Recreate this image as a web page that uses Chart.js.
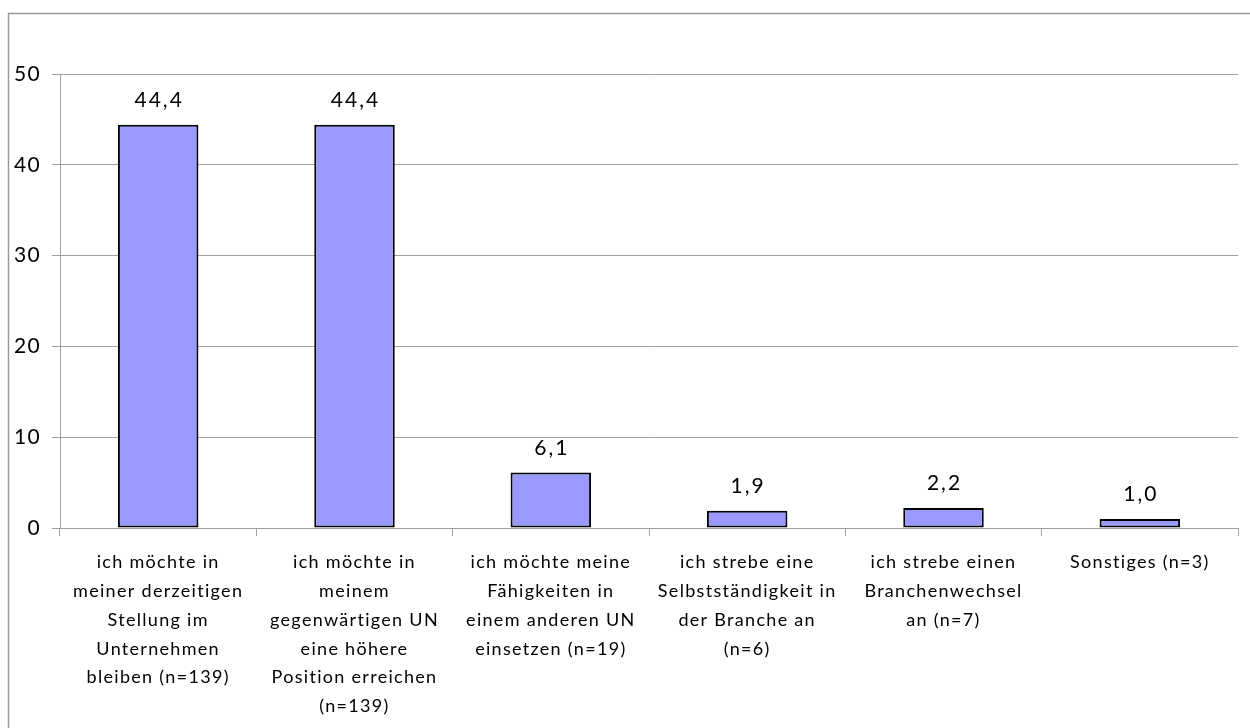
<!DOCTYPE html>
<html lang="de">
<head>
<meta charset="utf-8">
<title>Berufliche Ziele</title>
<script src="https://cdn.jsdelivr.net/npm/chart.js@4"></script>
<style>
  html, body { margin: 0; padding: 0; background: #ffffff; }
  canvas { display: block; }
</style>
</head>
<body>
<canvas id="chart" width="1250" height="728"></canvas>
<script>
// Antwortkategorien (mehrzeilig wie in der Achsenbeschriftung)
const categories = [
  ["ich möchte in", "meiner derzeitigen", "Stellung im", "Unternehmen", "bleiben (n=139)"],
  ["ich möchte in", "meinem", "gegenwärtigen UN", "eine höhere", "Position erreichen", "(n=139)"],
  ["ich möchte meine", "Fähigkeiten in", "einem anderen UN", "einsetzen (n=19)"],
  ["ich strebe eine", "Selbstständigkeit in", "der Branche an", "(n=6)"],
  ["ich strebe einen", "Branchenwechsel", "an (n=7)"],
  ["Sonstiges (n=3)"]
];

// Anteile in Prozent
const percentages = [44.4, 44.4, 6.1, 1.9, 2.2, 1.0];

// Y-Achse
const yTicks = [0, 10, 20, 30, 40, 50];

const FONT = "Lato, 'Open Sans', sans-serif";
const GRID = "#a0a0a0";

// etwas gesperrte Schrift für alle Beschriftungen
const spacing = {
  id: "spacing",
  beforeLayout(chart) { chart.ctx.letterSpacing = "1.3px"; },
  beforeDraw(chart) { chart.ctx.letterSpacing = "1.3px"; }
};

// Rahmen um die gesamte Grafik (oben und links sichtbar)
const frame = {
  id: "frame",
  beforeDraw(chart) {
    const ctx = chart.ctx;
    ctx.save();
    ctx.strokeStyle = "#9a9a9a";
    ctx.lineWidth = 1.5;
    ctx.strokeRect(8.5, 13.5, chart.width + 20, chart.height + 20);
    ctx.restore();
  }
};

// Wertbeschriftungen über den Säulen, deutsches Dezimalkomma
const valueLabels = {
  id: "valueLabels",
  afterDatasetsDraw(chart) {
    const ctx = chart.ctx;
    const meta = chart.getDatasetMeta(0);
    ctx.save();
    ctx.font = "21px " + FONT;
    ctx.letterSpacing = "2px";
    ctx.fillStyle = "#000000";
    ctx.textAlign = "center";
    ctx.textBaseline = "alphabetic";
    meta.data.forEach((bar, i) => {
      const txt = percentages[i].toFixed(1).replace(".", ",");
      ctx.fillText(txt, bar.x + 1, bar.y - 18);
    });
    ctx.restore();
  }
};

new Chart(document.getElementById("chart"), {
  type: "bar",
  data: {
    labels: categories,
    datasets: [{
      data: percentages,
      backgroundColor: "#9999ff",
      borderColor: "#000000",
      borderWidth: 2,
      borderSkipped: false,
      barPercentage: 0.41,
      categoryPercentage: 1.0
    }]
  },
  options: {
    responsive: false,
    animation: false,
    devicePixelRatio: 1,
    layout: { padding: { left: 0, right: 12, top: 74, bottom: 0 } },
    plugins: {
      legend: { display: false },
      tooltip: { enabled: false },
      title: { display: false }
    },
    scales: {
      x: {
        offset: true,
        grid: {
          offset: true,
          drawOnChartArea: false,
          drawTicks: true,
          tickLength: 8,
          color: GRID,
          lineWidth: 1
        },
        border: { display: true, color: GRID, width: 1 },
        ticks: {
          color: "#000000",
          font: { family: FONT, size: 18, lineHeight: 1.6 },
          padding: 12,
          maxRotation: 0,
          minRotation: 0,
          autoSkip: false
        },
        afterFit(scale) { scale.height = 200; }
      },
      y: {
        min: 0,
        max: 50,
        afterBuildTicks(scale) { scale.ticks = yTicks.map(v => ({ value: v })); },
        grid: {
          color: GRID,
          lineWidth: 1,
          drawTicks: true,
          tickLength: 8
        },
        border: { display: true, color: GRID, width: 1 },
        ticks: {
          color: "#000000",
          font: { family: FONT, size: 21 },
          padding: 11
        },
        afterFit(scale) { scale.width = 60; }
      }
    }
  },
  plugins: [spacing, frame, valueLabels]
});
</script>
</body>
</html>
